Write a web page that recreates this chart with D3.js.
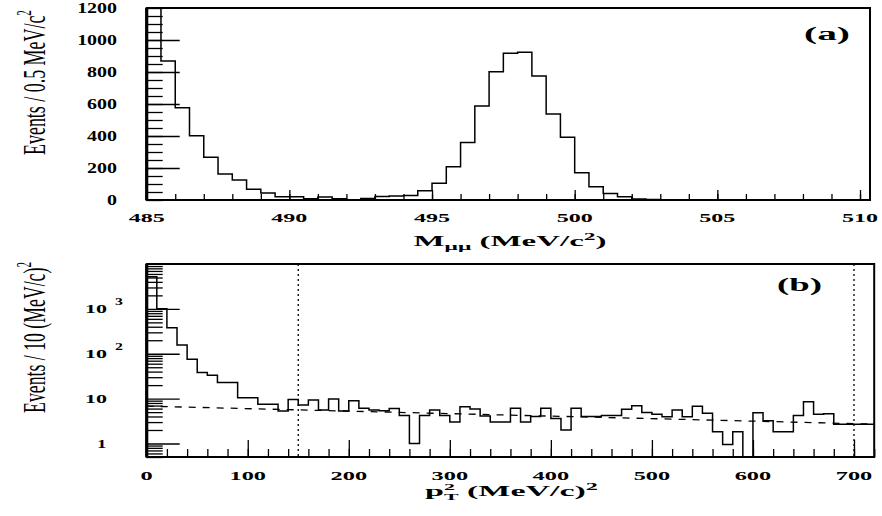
<!DOCTYPE html>
<html><head><meta charset="utf-8">
<script src="https://cdn.jsdelivr.net/npm/d3@7"></script>
<style>
html,body{margin:0;padding:0;background:#fff;}
svg{display:block;}
text{font-family:"Liberation Serif","DejaVu Serif",serif;fill:#000;}
</style></head><body>
<svg id="chart" width="882" height="516"></svg>
<script>
// ---------- data ----------
const massStart = 485, massBinWidth = 0.5;
const massCounts = [1400, 869, 577, 402, 267, 163, 125, 67, 44, 21,
  21, 8, 18, 8, 2, 10, 22, 25, 28, 58,
  104, 208, 360, 587, 802, 917, 923, 775, 538, 392,
  171, 83, 40, 20, 6, 3, 0, 0, 0, 0,
  0, 0, 0, 0, 0, 0, 0, 0, 0, 0];
const massXTicks = [485, 490, 495, 500, 505, 510];
const massYTicks = [0, 200, 400, 600, 800, 1000, 1200];

const ptStart = 0, ptBinWidth = 10;
const ptCounts = [5200, 1000, 380, 156, 75, 38, 33, 23, 23, 10.5,
  10.5, 7.5, 7.5, 5.3, 9.6, 7.2, 9.3, 5.6, 9.8, 5.3,
  9.0, 6.1, 5.6, 5.4, 6.0, 4.2, 1.0, 4.2, 5.6, 4.2,
  3.0, 6.6, 5.9, 4.1, 3.0, 3.0, 6.1, 3.0, 4.0, 6.1,
  3.6, 2.0, 6.1, 4.0, 4.0, 4.2, 4.2, 5.8, 6.9, 4.9,
  4.5, 3.95, 5.6, 3.95, 6.8, 4.7, 1.83, 0.95, 1.83, 0,
  4.85, 3.2, 1.83, 1.83, 4.2, 8.5, 4.5, 4.6, 2.7, 2.7,
  2.7, 2.7];
const ptXTicks = [0, 100, 200, 300, 400, 500, 600, 700];
const ptYTicks = [1, 10, 100, 1000];
const ptYTickLabels = ["1", "10", "10", "10"];
const ptYTickExponents = ["", "", "2", "3"];
const ptCuts = [150, 700];
const fitPoints = [[0, 6.8], [720, 2.7]];

// ---------- scales ----------
const svg = d3.select("#chart");
const xA = d3.scaleLinear().domain([485, 510.35]).range([146.7, 870]);
const yA = d3.scaleLinear().domain([0, 1200]).range([200, 8]);
const xB = d3.scaleLinear().domain([0, 720]).range([146.7, 874.2]);
const yB = d3.scaleLog().domain([0.5, 10000]).range([457, 264]);

const defs = svg.append("defs");
defs.append("clipPath").attr("id", "clipA").append("rect")
  .attr("x", xA.range()[0]).attr("y", yA.range()[1])
  .attr("width", xA.range()[1] - xA.range()[0]).attr("height", yA.range()[0] - yA.range()[1]);
defs.append("clipPath").attr("id", "clipB").append("rect")
  .attr("x", xB.range()[0]).attr("y", yB.range()[1])
  .attr("width", xB.range()[1] - xB.range()[0]).attr("height", yB.range()[0] - yB.range()[1]);

function stepPoints(start, width, counts) {
  const pts = counts.map((c, i) => [start + i * width, c]);
  pts.push([start + counts.length * width, counts[counts.length - 1]]);
  return pts;
}
function axisStyle(g) {
  g.select(".domain").remove();
  g.selectAll(".tick line").attr("stroke", "#000").attr("stroke-width", 1.3);
}
function stretchedText(g, x, y, txt, size, sx, anchor) {
  return g.append("text").attr("x", 0).attr("y", 0)
    .attr("font-size", size).attr("font-weight", "bold")
    .attr("text-anchor", anchor)
    .attr("transform", `translate(${x},${y}) scale(${sx},1)`).text(txt);
}
function fitWidth(t, tr, target) {
  const w = t.node().getBBox().width;
  t.attr("transform", `${tr} scale(${target / w},1)`);
}

// ---------- panel (a) ----------
const gA = svg.append("g");
// ticks
gA.append("g").attr("transform", `translate(0,${yA(0)})`)
  .call(d3.axisBottom(xA).tickValues(d3.range(485, 511, 1)).tickSize(-6).tickFormat(""))
  .call(axisStyle);
gA.append("g").attr("transform", `translate(0,${yA(0)})`)
  .call(d3.axisBottom(xA).tickValues(massXTicks).tickSize(-10).tickFormat(""))
  .call(axisStyle);
gA.append("g").attr("transform", `translate(${xA.range()[0]},0)`)
  .call(d3.axisLeft(yA).tickValues(d3.range(0, 1201, 50)).tickSize(-16).tickFormat(""))
  .call(axisStyle);
gA.append("g").attr("transform", `translate(${xA.range()[0]},0)`)
  .call(d3.axisLeft(yA).tickValues(massYTicks.slice(1, -1)).tickSize(-33).tickFormat(""))
  .call(axisStyle);

// histogram
const lineA = d3.line().x(d => xA(d[0])).y(d => yA(d[1])).curve(d3.curveStepAfter);
gA.append("path").attr("clip-path", "url(#clipA)")
  .attr("d", lineA(stepPoints(massStart, massBinWidth, massCounts)))
  .attr("fill", "none").attr("stroke", "#000").attr("stroke-width", 1.5);

// frame
gA.append("rect").attr("x", xA.range()[0]).attr("y", yA.range()[1])
  .attr("width", xA.range()[1] - xA.range()[0]).attr("height", yA.range()[0] - yA.range()[1])
  .attr("fill", "none").attr("stroke", "#000").attr("stroke-width", 2);
gA.append("line").attr("x1", xA.range()[0]).attr("x2", xA.range()[0])
  .attr("y1", yA.range()[1]).attr("y2", yA.range()[0]).attr("stroke", "#000").attr("stroke-width", 3.2);

// tick labels
massXTicks.forEach(v => stretchedText(gA, xA(v), 222, String(v), 13, 1.85, "middle"));
massYTicks.forEach(v => stretchedText(gA, 117, yA(v) + 5, String(v), 15, 1.33, "end"));

// titles
{
  const t = gA.append("text").attr("font-size", 14).attr("font-weight", "bold").attr("text-anchor", "middle");
  t.append("tspan").text("M");
  t.append("tspan").attr("font-size", 10).attr("dy", 4).text("μμ");
  t.append("tspan").attr("dy", -4).text(" (MeV/c");
  t.append("tspan").attr("font-size", 10).attr("dy", -6).text("2");
  t.append("tspan").attr("dy", 6).text(")");
  fitWidth(t, "translate(510,246)", 194);
}
{
  const t = gA.append("text").attr("font-size", 32).attr("text-anchor", "middle");
  t.append("tspan").text("Events / 0.5 MeV/c");
  t.append("tspan").attr("font-size", 20).attr("dy", -14).text("2");
  fitWidth(t, "translate(45,82.5) rotate(-90)", 145);
}
{
  const t = gA.append("text").attr("font-size", 19).attr("font-weight", "bold").attr("text-anchor", "middle").text("(a)");
  fitWidth(t, "translate(827,40)", 46);
}

// ---------- panel (b) ----------
const gB = svg.append("g");
gB.append("g").attr("transform", `translate(0,${yB.range()[0]})`)
  .call(d3.axisBottom(xB).tickValues(d3.range(0, 721, 20)).tickSize(-8).tickFormat(""))
  .call(axisStyle);
gB.append("g").attr("transform", `translate(0,${yB.range()[0]})`)
  .call(d3.axisBottom(xB).tickValues(ptXTicks).tickSize(-17).tickFormat(""))
  .call(axisStyle);
const minorLog = [];
[0.1, 1, 10, 100, 1000].forEach(p => { for (let k = 2; k <= 9; k++) { const v = p * k; if (v >= 0.5 && v < 10000) minorLog.push(v); } });
gB.append("g").attr("transform", `translate(${xB.range()[0]},0)`)
  .call(d3.axisLeft(yB).tickValues(minorLog).tickSize(-16).tickFormat(""))
  .call(axisStyle);
gB.append("g").attr("transform", `translate(${xB.range()[0]},0)`)
  .call(d3.axisLeft(yB).tickValues(ptYTicks).tickSize(-33).tickFormat(""))
  .call(axisStyle);

// cut lines
gB.selectAll("line.cut").data(ptCuts).join("line").attr("class", "cut")
  .attr("x1", d => xB(d)).attr("x2", d => xB(d))
  .attr("y1", yB.range()[1]).attr("y2", yB.range()[0])
  .attr("stroke", "#000").attr("stroke-width", 1.3).attr("stroke-dasharray", "2,3");

// fit
const lineFit = d3.line().x(d => xB(d[0])).y(d => yB(d[1]));
gB.append("path").attr("d", lineFit(fitPoints)).attr("fill", "none")
  .attr("stroke", "#000").attr("stroke-width", 1.3).attr("stroke-dasharray", "7,7");

// histogram
const lineB = d3.line().x(d => xB(d[0]))
  .y(d => d[1] > 0 ? yB(d[1]) : yB.range()[0] + 3).curve(d3.curveStepAfter);
gB.append("path").attr("clip-path", "url(#clipB)")
  .attr("d", lineB(stepPoints(ptStart, ptBinWidth, ptCounts)))
  .attr("fill", "none").attr("stroke", "#000").attr("stroke-width", 1.5);

// frame
gB.append("rect").attr("x", xB.range()[0]).attr("y", yB.range()[1])
  .attr("width", xB.range()[1] - xB.range()[0]).attr("height", yB.range()[0] - yB.range()[1])
  .attr("fill", "none").attr("stroke", "#000").attr("stroke-width", 2);
gB.append("line").attr("x1", xB.range()[0]).attr("x2", xB.range()[0])
  .attr("y1", yB.range()[1]).attr("y2", yB.range()[0]).attr("stroke", "#000").attr("stroke-width", 3.2);

// tick labels
ptXTicks.forEach(v => stretchedText(gB, xB(v), 480, String(v), 12.5, 1.95, "middle"));
ptYTicks.forEach((v, i) => {
  if (ptYTickLabels[i] === "1") {
    stretchedText(gB, 97, yB(v) + 4.5, ptYTickLabels[i], 13.5, 1.4, "start");
  } else {
    stretchedText(gB, 85, yB(v) + 4.5, ptYTickLabels[i], 13.5, 1.63, "start");
    if (ptYTickExponents[i]) stretchedText(gB, 115, yB(v) - 4, ptYTickExponents[i], 10.5, 1.5, "start");
  }
});

// titles
{
  const t = gB.append("text").attr("font-size", 14).attr("font-weight", "bold").attr("text-anchor", "middle");
  t.append("tspan").text("p");
  t.append("tspan").attr("font-size", 9).attr("dy", -6).text("2");
  t.append("tspan").attr("font-size", 9).attr("dx", -4.5).attr("dy", 10).text("T");
  t.append("tspan").attr("dy", -4).text(" (MeV/c)");
  t.append("tspan").attr("font-size", 10).attr("dy", -6).text("2");
  fitWidth(t, "translate(511.5,496)", 173);
}
{
  const t = gB.append("text").attr("font-size", 32).attr("text-anchor", "middle");
  t.append("tspan").text("Events / 10 (MeV/c)");
  t.append("tspan").attr("font-size", 20).attr("dy", -14).text("2");
  fitWidth(t, "translate(45,337.5) rotate(-90)", 151);
}
{
  const t = gB.append("text").attr("font-size", 19).attr("font-weight", "bold").attr("text-anchor", "middle").text("(b)");
  fitWidth(t, "translate(799.5,291)", 45);
}
</script>
</body></html>
